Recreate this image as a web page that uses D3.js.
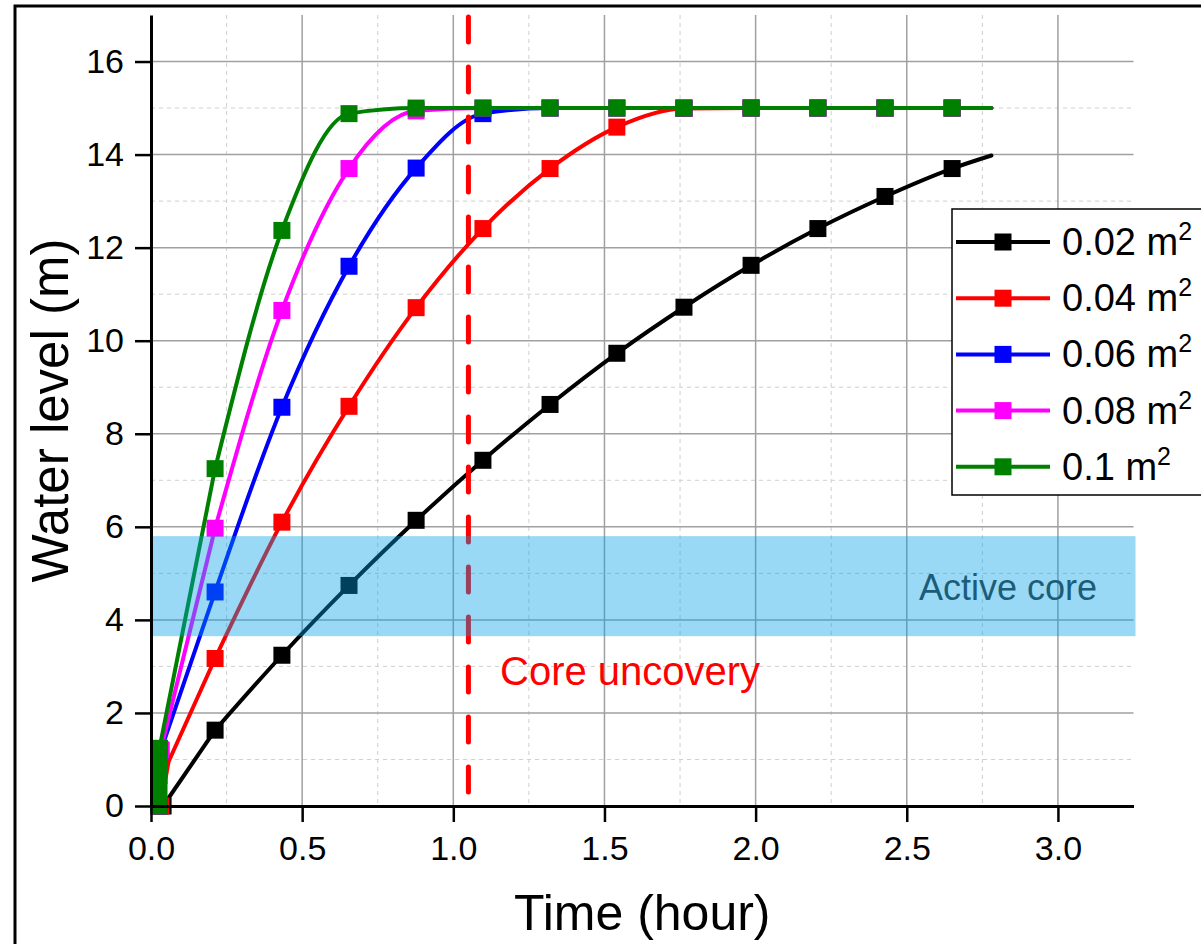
<!DOCTYPE html>
<html>
<head>
<meta charset="utf-8">
<script src="https://cdn.jsdelivr.net/npm/d3@7"></script>
<style>
  body { margin: 0; background: #fff; }
  svg { display: block; font-family: "Liberation Sans", Arial, sans-serif; }
</style>
</head>
<body>
<div id="chart"></div>
<script>
// marker times (hour), shared by every curve
var markerHours = [0.212, 0.433, 0.655, 0.877, 1.098, 1.320, 1.541, 1.763, 1.985, 2.206, 2.428, 2.650];
var endHour = 2.78;

// water level (m) at the marker times
var level002 = [1.63, 3.24, 4.74, 6.14, 7.43, 8.63, 9.73, 10.72, 11.62, 12.41, 13.10, 13.70];
var level004 = [3.17, 6.10, 8.59, 10.71, 12.41, 13.70, 14.59, 14.99, 15.0, 15.0, 15.0, 15.0];
var level006 = [4.60, 8.57, 11.60, 13.71, 14.88, 15.0, 15.0, 15.0, 15.0, 15.0, 15.0, 15.0];
var level008 = [5.97, 10.65, 13.70, 14.94, 15.0, 15.0, 15.0, 15.0, 15.0, 15.0, 15.0, 15.0];
var level010 = [7.25, 12.37, 14.88, 15.0, 15.0, 15.0, 15.0, 15.0, 15.0, 15.0, 15.0, 15.0];
var endLevel = [13.98, 15.0, 15.0, 15.0, 15.0];

// the steep start of each curve (first startMarks points carry a marker)
var startHours = [[0.040], [0.032, 0.058], [0.027, 0.033], [0.026, 0.032], [0.026, 0.0265, 0.027, 0.0275, 0.028]];
var startLevels = [[0], [0, 0.95], [0, 1.2], [0, 1.2], [0, 0.33, 0.66, 0.99, 1.24]];
var startMarks = [1, 1, 2, 2, 5];

var seriesNames = ["0.02", "0.04", "0.06", "0.08", "0.1"];
var seriesColors = ["#000000", "#ff0000", "#0000ff", "#ff00ff", "#008000"];
var seriesLevels = [level002, level004, level006, level008, level010];

var activeCore = [3.65, 5.8];
var uncoveryHour = 1.05;

var xMajor = [0, 0.5, 1.0, 1.5, 2.0, 2.5, 3.0];
var xMinor = [0.25, 0.75, 1.25, 1.75, 2.25, 2.75, 3.25];
var yMajor = [0, 2, 4, 6, 8, 10, 12, 14, 16];
var yMinor = [1, 3, 5, 7, 9, 11, 13, 15, 17];

var W = 1201, H = 944;
var plotLeft = 151, plotRight = 1133.5, plotTop = 15, plotBottom = 806;

var svg = d3.select("#chart").append("svg")
    .attr("width", W)
    .attr("height", H);

var x = d3.scaleLinear().domain([0, 3.25]).range([plotLeft, plotRight]);
var y = d3.scaleLinear().domain([0, 17]).range([plotBottom, plotTop]);

// grid
var grid = svg.append("g");
grid.selectAll(".vminor").data(xMinor.filter(function(d) { return d < 3.25; })).enter().append("line")
    .attr("x1", function(d) { return x(d); }).attr("x2", function(d) { return x(d); })
    .attr("y1", plotTop).attr("y2", plotBottom)
    .attr("stroke", "#cfcfcf").attr("stroke-width", 1).attr("stroke-dasharray", "4,4");
grid.selectAll(".hminor").data(yMinor.filter(function(d) { return d < 17; })).enter().append("line")
    .attr("x1", plotLeft).attr("x2", plotRight)
    .attr("y1", function(d) { return y(d); }).attr("y2", function(d) { return y(d); })
    .attr("stroke", "#cfcfcf").attr("stroke-width", 1).attr("stroke-dasharray", "4,4");
grid.selectAll(".vmajor").data(xMajor.slice(1)).enter().append("line")
    .attr("x1", function(d) { return x(d); }).attr("x2", function(d) { return x(d); })
    .attr("y1", plotTop).attr("y2", plotBottom)
    .attr("stroke", "#a0a0a0").attr("stroke-width", 1.5);
grid.selectAll(".hmajor").data(yMajor.slice(1)).enter().append("line")
    .attr("x1", plotLeft).attr("x2", plotRight)
    .attr("y1", function(d) { return y(d); }).attr("y2", function(d) { return y(d); })
    .attr("stroke", "#a0a0a0").attr("stroke-width", 1.5);

// build the points of each curve
var series = seriesNames.map(function(name, i) {
  var head = startHours[i].map(function(t, j) {
    return {t: t, v: startLevels[i][j], m: j < startMarks[i]};
  });
  var body = markerHours.map(function(t, j) { return {t: t, v: seriesLevels[i][j], m: true}; });
  body.push({t: endHour, v: endLevel[i], m: false});
  return {name: name, color: seriesColors[i], head: head.concat([body[0]]), body: body,
          marks: head.concat(body).filter(function(d) { return d.m; })};
});

var lineStart = d3.line()
    .x(function(d) { return x(d.t); })
    .y(function(d) { return y(d.v); });
var lineBody = d3.line()
    .x(function(d) { return x(d.t); })
    .y(function(d) { return y(d.v); })
    .curve(d3.curveMonotoneX);

var ms = 17;
series.forEach(function(s) {
  var g = svg.append("g");
  g.append("path")
      .attr("d", lineStart(s.head))
      .attr("fill", "none")
      .attr("stroke", s.color)
      .attr("stroke-width", 4)
      .attr("stroke-linejoin", "round");
  g.append("path")
      .attr("d", lineBody(s.body))
      .attr("fill", "none")
      .attr("stroke", s.color)
      .attr("stroke-width", 4)
      .attr("stroke-linecap", "round");
  g.selectAll("rect").data(s.marks).enter().append("rect")
      .attr("x", function(d) { return x(d.t) - ms / 2; })
      .attr("y", function(d) { return y(d.v) - ms / 2; })
      .attr("width", ms).attr("height", ms)
      .attr("fill", s.color);
});

// core uncovery line
svg.append("line")
    .attr("x1", x(uncoveryHour)).attr("x2", x(uncoveryHour))
    .attr("y1", plotTop + 2).attr("y2", plotBottom)
    .attr("stroke", "#ff0000").attr("stroke-width", 5)
    .attr("stroke-linecap", "round")
    .attr("stroke-dasharray", "25,25");

// active core band
svg.append("rect")
    .attr("x", plotLeft).attr("y", y(activeCore[1]))
    .attr("width", plotRight - plotLeft + 2).attr("height", y(activeCore[0]) - y(activeCore[1]))
    .attr("fill", "rgb(0,160,230)").attr("fill-opacity", 0.4);

svg.append("text")
    .attr("x", 1097).attr("y", 600)
    .attr("text-anchor", "end")
    .attr("font-size", 36)
    .attr("fill", "#1b5d78")
    .text("Active core");

svg.append("text")
    .attr("x", 500).attr("y", 685)
    .attr("font-size", 40)
    .attr("fill", "#ff0000")
    .text("Core uncovery");

// axes
var xAxis = svg.append("g").attr("transform", "translate(0," + plotBottom + ")");
xAxis.call(d3.axisBottom(x).tickValues(xMinor).tickSize(8).tickSizeOuter(0).tickFormat(""));
xAxis.call(d3.axisBottom(x).tickValues(xMajor).tickSize(16).tickSizeOuter(0).tickPadding(14).tickFormat(d3.format(".1f")));
var yAxis = svg.append("g").attr("transform", "translate(" + plotLeft + ",0)");
yAxis.call(d3.axisLeft(y).tickValues(yMinor).tickSize(8).tickSizeOuter(0).tickFormat(""));
yAxis.call(d3.axisLeft(y).tickValues(yMajor).tickSize(16).tickSizeOuter(0).tickPadding(11).tickFormat(d3.format("d")));

svg.selectAll(".domain").attr("stroke", "#000").attr("stroke-width", 3);
svg.selectAll(".tick line").attr("stroke", "#000").attr("stroke-width", 2.5);
svg.selectAll(".tick text").attr("font-size", 34).attr("fill", "#000")
    .attr("font-family", "Liberation Sans, Arial, sans-serif");

// axis titles
svg.append("text")
    .attr("x", (plotLeft + plotRight) / 2).attr("y", 930)
    .attr("text-anchor", "middle")
    .attr("font-size", 50)
    .text("Time (hour)");
svg.append("text")
    .attr("transform", "translate(68," + (plotTop + plotBottom) / 2 + ") rotate(-90)")
    .attr("text-anchor", "middle")
    .attr("font-size", 51)
    .text("Water level (m)");

// legend
var legend = svg.append("g");
legend.append("rect")
    .attr("x", 952).attr("y", 209)
    .attr("width", 300).attr("height", 286)
    .attr("fill", "#fff").attr("stroke", "#000").attr("stroke-width", 1.5);
series.forEach(function(s, i) {
  var cy = 242 + i * 56.2;
  legend.append("line")
      .attr("x1", 956).attr("x2", 1050).attr("y1", cy).attr("y2", cy)
      .attr("stroke", s.color).attr("stroke-width", 4);
  legend.append("rect")
      .attr("x", 1003 - ms / 2).attr("y", cy - ms / 2)
      .attr("width", ms).attr("height", ms)
      .attr("fill", s.color);
  var t = legend.append("text")
      .attr("x", 1062).attr("y", cy + 13)
      .attr("font-size", 38);
  t.append("tspan").text(s.name + " m");
  t.append("tspan").attr("dy", -15).attr("font-size", 25).text("2");
});

// outer frame
svg.append("rect")
    .attr("x", 15).attr("y", 6)
    .attr("width", 1250).attr("height", 1000)
    .attr("fill", "none").attr("stroke", "#000").attr("stroke-width", 3);
</script>
</body>
</html>
